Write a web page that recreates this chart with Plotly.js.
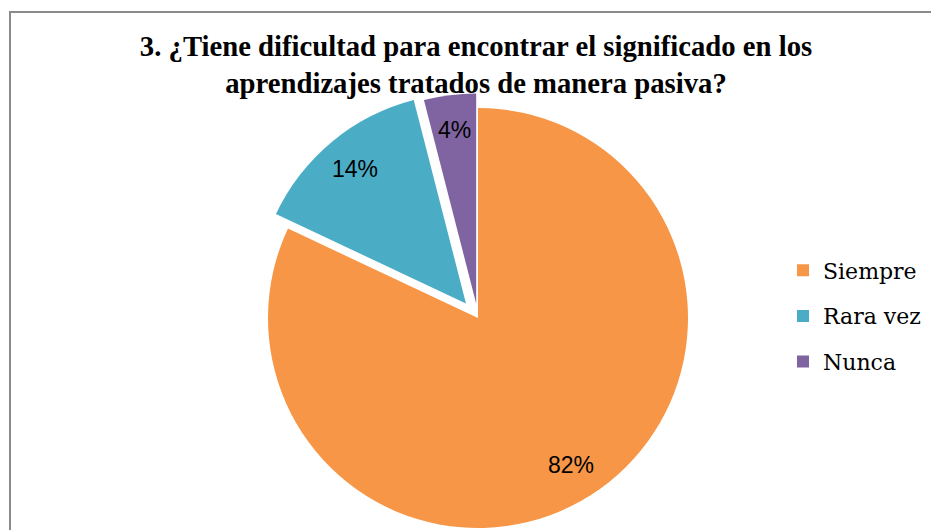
<!DOCTYPE html>
<html>
<head>
<meta charset="utf-8">
<script src="https://cdn.plot.ly/plotly-3.0.1.min.js"></script>
<style>
  html, body { margin: 0; padding: 0; background: #ffffff; overflow: hidden; width: 931px; height: 530px; }
  #chart { position: absolute; left: 0; top: 0; width: 931px; height: 600px; }
  #frame { position: absolute; left: 9px; top: 11px; width: 940px; height: 600px;
           border-left: 2px solid #8a8a8a; border-top: 2px solid #8a8a8a; pointer-events: none; }
</style>
</head>
<body>
<div id="chart"></div>
<div id="frame"></div>
<script>
const categories = ["Siempre", "Rara vez", "Nunca"];
const percentages = [82, 14, 4];
const sliceColors = ["#F79646", "#4BACC6", "#8064A2"];
const pulls = [0, 0.09, 0.07];
const chartTitle = "3. ¿Tiene dificultad para encontrar el significado en los<br>aprendizajes tratados de manera pasiva?";

const W = 931, H = 600;
const cx = 478, cy = 318, r = 210;
const maxPull = Math.max(...pulls);
const half = r * (1 + maxPull);
const labelRadius = 0.83;

// legend labels: extra empty lines widen the row spacing, big span keeps text size
const legendSize = 8.2;
const legendTextSize = 22;
const legendLabels = categories.map(c =>
  "<br><br><span style=\"font-size:" + legendTextSize + "px\">" + c + "</span><br>");

const trace = {
  type: "pie",
  labels: legendLabels,
  values: percentages,
  sort: false,
  direction: "clockwise",
  rotation: 0,
  pull: pulls,
  marker: { colors: sliceColors, line: { width: 0 } },
  textinfo: "none",
  hoverinfo: "skip",
  domain: {
    x: [(cx - half) / W, (cx + half) / W],
    y: [1 - (cy + half) / H, 1 - (cy - half) / H]
  }
};

// percentage labels placed along each slice's mid-angle, derived from the values
const total = percentages.reduce((a, b) => a + b, 0);
let cum = 0;
const annotations = percentages.map((v, i) => {
  const mid = (cum + v / 2) / total;
  cum += v;
  const th = 2 * Math.PI * mid;
  const dx = Math.sin(th), dy = -Math.cos(th);
  const px = cx + r * (pulls[i] + labelRadius) * dx;
  const py = cy + r * (pulls[i] + labelRadius) * dy;
  return {
    xref: "paper", yref: "paper",
    x: px / W, y: 1 - py / H,
    xanchor: "center", yanchor: "middle",
    text: Math.round(v / total * 100) + "%",
    showarrow: false,
    font: { family: "Liberation Sans, Arial, sans-serif", size: 23, color: "#000000" }
  };
});

const layout = {
  width: W, height: H,
  margin: { l: 0, r: 0, t: 0, b: 0 },
  paper_bgcolor: "#ffffff",
  title: {
    text: chartTitle,
    font: { family: "Liberation Serif, serif", size: 28.7, color: "#000000", weight: "bold" },
    x: 476 / W, xanchor: "center",
    y: 1 - 56 / H, yanchor: "middle", yref: "container"
  },
  annotations: annotations,
  showlegend: true,
  legend: {
    x: 783 / W, xanchor: "left",
    y: 1 - 316 / H, yanchor: "middle",
    font: { family: "DejaVu Serif, serif", size: legendSize, color: "#000000" },
    bgcolor: "rgba(0,0,0,0)"
  }
};

Plotly.newPlot("chart", [trace], layout, { displayModeBar: false, staticPlot: true });
</script>
</body>
</html>
